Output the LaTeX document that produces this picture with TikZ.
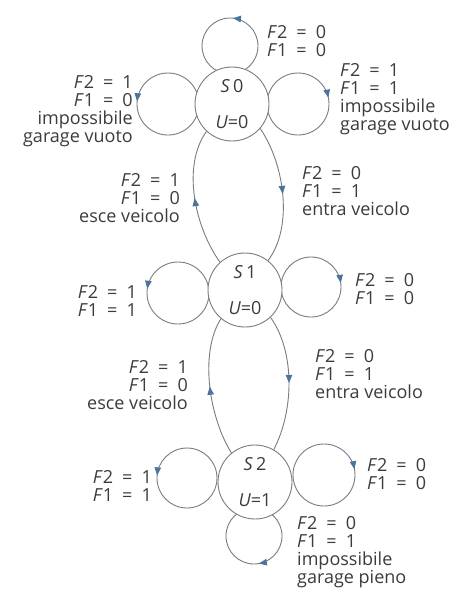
\documentclass[tikz,border=0pt]{standalone}
\usepackage{fontspec}
\setmainfont{Open Sans}
\usetikzlibrary{arrows.meta,decorations.markings}
\definecolor{txt}{RGB}{60,60,60}
\definecolor{linec}{RGB}{120,124,130}
\definecolor{arrc}{RGB}{75,115,155}
\newcommand\eqs{\hspace{0.5em}=\hspace{0.5em}}
\newcommand\Fv[2]{\textit{F}#1\eqs#2}
\newcommand\fs{\fontsize{18}{18}\selectfont}
\begin{document}
\begin{tikzpicture}[x=1pt,y=1pt,
  state/.style={circle,draw=linec,line width=0.9pt,fill=white,minimum size=74pt,inner sep=0pt,align=center,font=\fs,text=txt},
  lbl/.style={inner sep=0pt,font=\fs,text=txt},
  lloop/.style={draw=linec,line width=0.9pt},
  mid/.style={postaction={decorate,decoration={markings,mark=at position #1 with {\arrow[arrc]{Triangle[length=8pt,width=6.5pt]}}}}},
  trans/.style={draw=linec,line width=0.9pt,mid=0.5}]
\useasboundingbox (0,0) rectangle (476,-597);
\fill[white] (0,0) rectangle (476,-597);
% loop centres
\coordinate (c0t) at (230,-46);
\coordinate (c0l) at (168,-104);
\coordinate (c0r) at (298,-104);
\coordinate (c1l) at (178,-293);
\coordinate (c1r) at (311,-287);
\coordinate (c2l) at (187,-478);
\coordinate (c2r) at (324,-475);
\coordinate (c2b) at (254,-536);
% self loops
\draw[lloop,mid=0.483] (c0t) ++(-90:28) arc[start angle=-90,delta angle=360,radius=28];
\draw[lloop,mid=0.486] (c0l) ++(0:31) arc[start angle=0,delta angle=360,radius=31];
\draw[lloop,mid=0.467] (c0r) ++(180:31) arc[start angle=180,delta angle=-360,radius=31];
\draw[lloop,mid=0.478] (c1l) ++(0:31) arc[start angle=0,delta angle=360,radius=31];
\draw[lloop,mid=0.478] (c1r) ++(180:30) arc[start angle=180,delta angle=-360,radius=30];
\draw[lloop,mid=0.486] (c2l) ++(0:30) arc[start angle=0,delta angle=360,radius=30];
\draw[lloop,mid=0.47] (c2r) ++(180:31) arc[start angle=180,delta angle=-360,radius=31];
\draw[lloop,mid=0.472] (c2b) ++(90:28) arc[start angle=90,delta angle=-360,radius=28];
% states
\node[state] (s0) at (232,-104) {\textit{S}\,0\\[18pt]\textit{U}=0};
\node[state] (s1) at (245,-290) {\textit{S}\,1\\[18pt]\textit{U}=0};
\node[state] (s2) at (255,-482) {\textit{S}\,2\\[18pt]\textit{U}=1};
% transitions
\draw[trans] (s0.-41) .. controls +(25,-37) and +(25,33) .. (s1.52);
\draw[trans] (s1.132) .. controls +(-25,35) and +(-25,-35) .. (s0.-133);
\draw[trans] (s1.-47) .. controls +(25,-35) and +(20,38) .. (s2.60);
\draw[trans] (s2.129) .. controls +(-22,35) and +(-22,-35) .. (s1.-130);
% labels
\node[lbl,anchor=north west,align=left] (l1) at (267,-25.5) {\Fv{2}{0}\\\Fv{1}{0}};
\node[lbl,anchor=north east,align=right] (l2) at (133,-75.5) {\Fv{2}{1}\\\Fv{1}{0}\\impossibile\\garage vuoto};
\node[lbl,anchor=north west,align=left] (l3) at (340,-63.5) {\Fv{2}{1}\\\Fv{1}{1}\\impossibile\\garage vuoto};
\node[lbl,anchor=north west,align=left] (l4) at (302,-166.5) {\Fv{2}{0}\\\Fv{1}{1}\\entra veicolo};
\node[lbl,anchor=north east,align=right] (l5) at (180,-173.5) {\Fv{2}{1}\\\Fv{1}{0}\\esce veicolo};
\node[lbl,anchor=north east,align=right] (l6) at (137,-285.5) {\Fv{2}{1}\\\Fv{1}{1}};
\node[lbl,anchor=north west,align=left] (l7) at (355,-273.5) {\Fv{2}{0}\\\Fv{1}{0}};
\node[lbl,anchor=north west,align=left] (l8) at (315,-349.5) {\Fv{2}{0}\\\Fv{1}{1}\\entra veicolo};
\node[lbl,anchor=north east,align=right] (l9) at (188,-360.5) {\Fv{2}{1}\\\Fv{1}{0}\\esce veicolo};
\node[lbl,anchor=north east,align=right] (l10) at (152,-470.5) {\Fv{2}{1}\\\Fv{1}{1}};
\node[lbl,anchor=north west,align=left] (l11) at (367,-458.5) {\Fv{2}{0}\\\Fv{1}{0}};
\node[lbl,anchor=north west,align=left] (l12) at (297,-516.5) {\Fv{2}{0}\\\Fv{1}{1}\\impossibile\\garage pieno};
\end{tikzpicture}
\end{document}
